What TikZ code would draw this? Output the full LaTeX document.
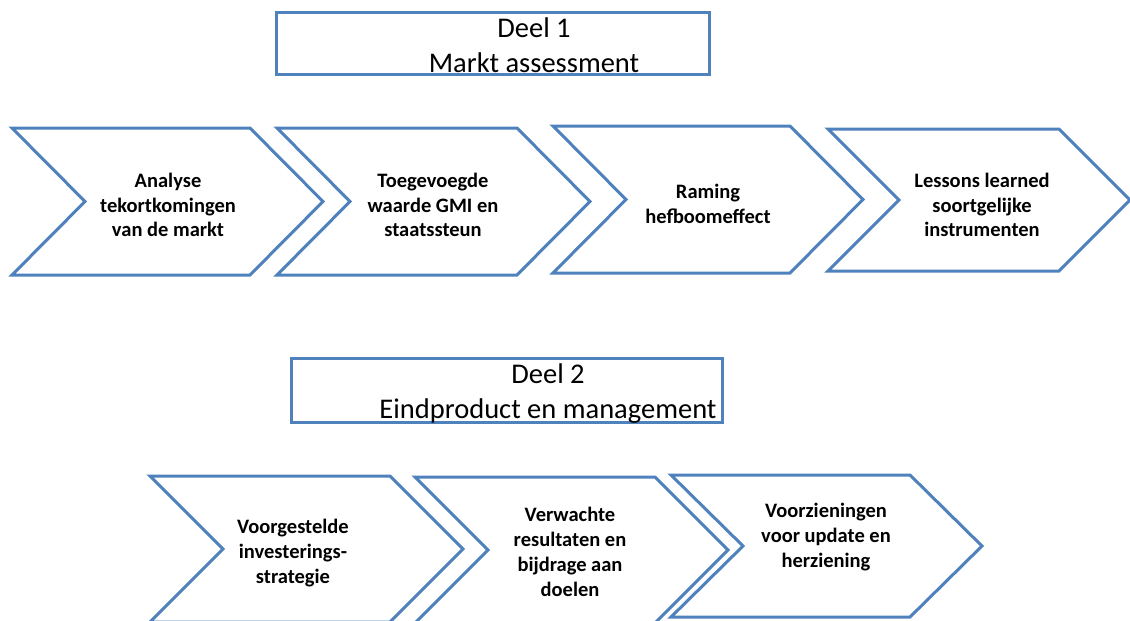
\documentclass[tikz,border=0pt]{standalone}
\usepackage{fontspec}
\setmainfont{Carlito}
\definecolor{chevblue}{HTML}{4F81BD}
\newcommand{\chevshape}[5]{% left, top, bottom, bodyright, depth
  \draw[chev] (#1,#2) -- (#4,#2) -- ({#4+#5},{(#2+#3)/2}) -- (#4,#3) -- (#1,#3) -- ({#1+#5},{(#2+#3)/2}) -- cycle;}
\begin{document}
\begin{tikzpicture}[x=1pt,y=-1pt,
  chev/.style={draw=chevblue,line width=3pt,fill=white,line join=miter},
  hbox/.style={draw=chevblue,line width=3pt,fill=white,inner sep=0pt},
  htext/.style={align=center,font=\fontsize{28.5}{35}\selectfont,inner sep=0pt},
  ctext/.style={align=center,font=\fontsize{20.5}{24.8}\selectfont\bfseries,inner sep=0pt}]
\useasboundingbox (0,0) rectangle (1130,621);
\clip (0,0) rectangle (1130,621);
% header 1
\node[hbox,minimum width=433pt,minimum height=62pt] (box1) at (492.5,43.5) {};
\node[htext] (t1) at (534,45) {Deel 1\\Markt assessment};
% row 1
\chevshape{12}{128}{275}{250}{73}
\node[ctext] (c1) at (168,205) {Analyse\\tekortkomingen\\van de markt};
\chevshape{277}{128}{275}{517}{73}
\node[ctext] (c2) at (433,205) {Toegevoegde\\waarde GMI en\\staatssteun};
\chevshape{553}{126}{273}{790}{73}
\node[ctext] (c3) at (708,204) {Raming\\hefboomeffect};
\chevshape{828}{129}{271}{1059}{71}
\node[ctext] (c4) at (982,205) {Lessons learned\\soortgelijke\\instrumenten};
% header 2
\node[hbox,minimum width=431pt,minimum height=64pt] (box2) at (507,390) {};
\node[htext] (t2) at (548,394) {Deel 2\\Eindproduct en management};
% row 2
\chevshape{150}{476}{622}{390}{73}
\node[ctext] (c5) at (293,553) {Voorgestelde\\investerings-\\strategie};
\chevshape{415}{477}{623}{655}{73}
\node[ctext] (c6) at (570,552) {Verwachte\\resultaten en\\bijdrage aan\\doelen};
\chevshape{671}{475}{617}{910}{72}
\node[ctext] (c7) at (826,537) {Voorzieningen\\voor update en\\herziening};
\end{tikzpicture}
\end{document}
